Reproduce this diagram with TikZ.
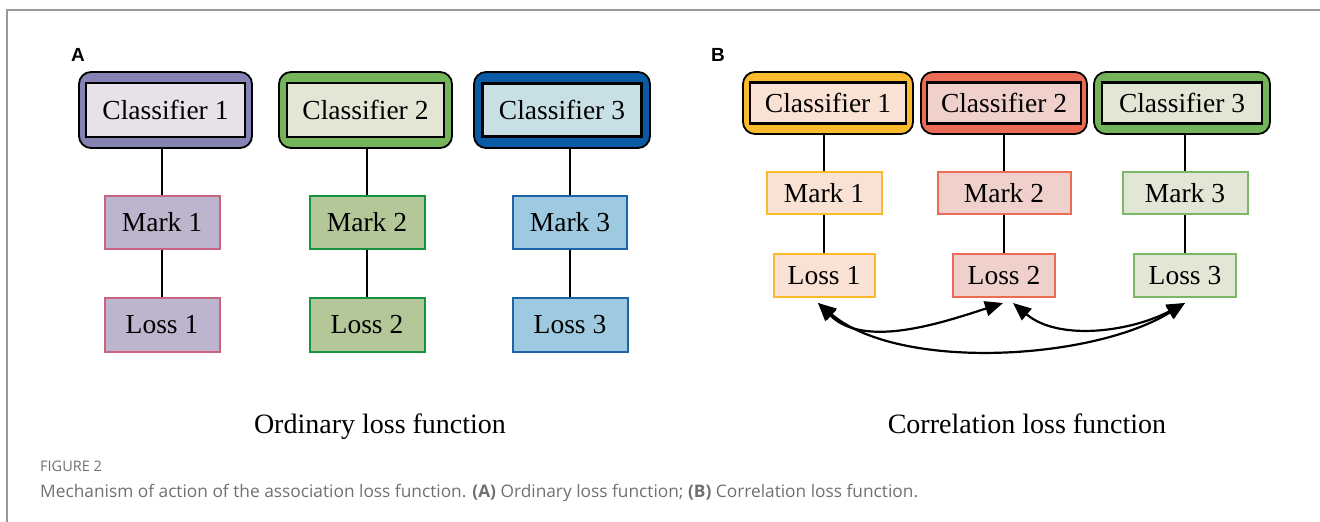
\documentclass[tikz,border=0pt]{standalone}
\usepackage{fontspec}
\setmainfont{Liberation Serif}
\newfontfamily\boxfont{Liberation Serif}
\newfontfamily\capfont{Open Sans}
\newfontfamily\lblfont{Liberation Sans}
\usetikzlibrary{arrows.meta}

% panel A palette
\definecolor{aOneOut}{HTML}{8582B4}
\definecolor{aOneIn}{HTML}{E7E1EA}
\definecolor{aOneBox}{HTML}{BDB5CD}
\definecolor{aOneLine}{HTML}{C9637F}
\definecolor{aTwoOut}{HTML}{74B55B}
\definecolor{aTwoIn}{HTML}{E3E6D4}
\definecolor{aTwoBox}{HTML}{B3C799}
\definecolor{aTwoLine}{HTML}{17923F}
\definecolor{aThrOut}{HTML}{0B5AA6}
\definecolor{aThrIn}{HTML}{C9DFE6}
\definecolor{aThrBox}{HTML}{9DCAE0}
\definecolor{aThrLine}{HTML}{1D63A8}
% panel B palette
\definecolor{bOneOut}{HTML}{FBBA2C}
\definecolor{bOneIn}{HTML}{F9E2D3}
\definecolor{bTwoOut}{HTML}{EC6B55}
\definecolor{bTwoIn}{HTML}{EFD0CA}
\definecolor{bThrOut}{HTML}{73B45B}
\definecolor{bThrIn}{HTML}{E2E6D4}
\definecolor{bThrLine}{HTML}{7BB866}
\definecolor{framegray}{HTML}{9A9A9A}
\definecolor{captiongray}{HTML}{707070}

\tikzset{
  outerbox/.style={draw=black, line width=1.8pt, rounded corners=12pt, inner sep=0pt},
  innerbox/.style={draw=black, line width=2.2pt, inner sep=0pt, font=\boxfont\fontsize{27.5}{30}\selectfont},
  stepbox/.style={line width=2pt, inner sep=0pt, font=\boxfont\fontsize{27.5}{30}\selectfont},
  link/.style={draw=black, line width=2pt},
  corr/.style={draw=black, line width=2.2pt,
    {Triangle[length=18pt,width=15pt]}-{Triangle[length=18pt,width=15pt]}},
  paneltitle/.style={anchor=base, inner sep=0pt, font=\boxfont\fontsize{28}{32}\selectfont},
  panellabel/.style={anchor=base, inner sep=0pt, font=\lblfont\bfseries\fontsize{19}{22}\selectfont},
}

\begin{document}
\begin{tikzpicture}[x=1pt, y=1pt]
\useasboundingbox (0,0) rectangle (1320,522);

% outer frame
\draw[framegray, line width=1.5pt] (7,0) -- (7,512) -- (1320,512);

% ---------------- panel A ----------------
\node[panellabel] (la) at (78,460.5) {A};

\node[outerbox, fill=aOneOut, minimum width=173pt, minimum height=76pt] (ao1) at (165.5,412) {};
\node[innerbox, fill=aOneIn, minimum width=159pt, minimum height=54pt] (ac1) at (ao1.center) {Classifier 1};
\node[stepbox, draw=aOneLine, fill=aOneBox, minimum width=115pt, minimum height=53pt] (am1) at (162,299.5) {Mark 1};
\node[stepbox, draw=aOneLine, fill=aOneBox, minimum width=115pt, minimum height=54pt] (al1) at (162,197) {Loss 1};

\node[outerbox, fill=aTwoOut, minimum width=173pt, minimum height=76pt] (ao2) at (365.5,412) {};
\node[innerbox, fill=aTwoIn, minimum width=157pt, minimum height=54pt] (ac2) at (ao2.center) {Classifier 2};
\node[stepbox, draw=aTwoLine, fill=aTwoBox, minimum width=115pt, minimum height=53pt] (am2) at (367,299.5) {Mark 2};
\node[stepbox, draw=aTwoLine, fill=aTwoBox, minimum width=115pt, minimum height=54pt] (al2) at (367,197) {Loss 2};

\node[outerbox, fill=aThrOut, minimum width=176pt, minimum height=76pt] (ao3) at (562,412) {};
\node[innerbox, fill=aThrIn, minimum width=159pt, minimum height=53pt] (ac3) at (ao3.center) {Classifier 3};
\node[stepbox, draw=aThrLine, fill=aThrBox, minimum width=114pt, minimum height=53pt] (am3) at (570,299.5) {Mark 3};
\node[stepbox, draw=aThrLine, fill=aThrBox, minimum width=115pt, minimum height=54pt] (al3) at (570,197) {Loss 3};

\foreach \i in {1,2,3}{
  \draw[link] (am\i.north) -- (am\i.north |- ao\i.south);
  \draw[link] (am\i.south) -- (am\i.south |- al\i.north);
}

\node[paneltitle] (ta) at (380,88) {Ordinary loss function};

% ---------------- panel B ----------------
\node[panellabel] (lb) at (718,460.5) {B};

\node[outerbox, fill=bOneOut, minimum width=170pt, minimum height=62pt] (bo1) at (828,419) {};
\node[innerbox, fill=bOneIn, minimum width=156pt, minimum height=41pt] (bc1) at (bo1.center) {Classifier 1};
\node[stepbox, draw=bOneOut, fill=bOneIn, minimum width=115pt, minimum height=42pt] (bm1) at (824,329) {Mark 1};
\node[stepbox, draw=bOneOut, fill=bOneIn, minimum width=101pt, minimum height=43pt] (bl1) at (824,246.5) {Loss 1};

\node[outerbox, fill=bTwoOut, minimum width=166pt, minimum height=62pt] (bo2) at (1004,419) {};
\node[innerbox, fill=bTwoIn, minimum width=154pt, minimum height=41pt] (bc2) at (bo2.center) {Classifier 2};
\node[stepbox, draw=bTwoOut, fill=bTwoIn, minimum width=133pt, minimum height=42pt] (bm2) at (1004,329) {Mark 2};
\node[stepbox, draw=bTwoOut, fill=bTwoIn, minimum width=102pt, minimum height=43pt] (bl2) at (1004,246.5) {Loss 2};

\node[outerbox, fill=bThrOut, minimum width=176pt, minimum height=62pt] (bo3) at (1182,419) {};
\node[innerbox, fill=bThrIn, minimum width=160pt, minimum height=41pt] (bc3) at (bo3.center) {Classifier 3};
\node[stepbox, draw=bThrLine, fill=bThrIn, minimum width=125pt, minimum height=42pt] (bm3) at (1185,329) {Mark 3};
\node[stepbox, draw=bThrLine, fill=bThrIn, minimum width=102pt, minimum height=43pt] (bl3) at (1185,246.5) {Loss 3};

\foreach \i in {1,2,3}{
  \draw[link] (bm\i.north) -- (bm\i.north |- bo\i.south);
  \draw[link] (bm\i.south) -- (bm\i.south |- bl\i.north);
}

% correlation links between the losses
\coordinate (p1) at ([xshift=-6pt, yshift=-5pt]bl1.south);
\coordinate (p2) at ([xshift=-1pt, yshift=-5pt]bl2.south);
\coordinate (p2r) at ([xshift=9pt, yshift=-5pt]bl2.south);
\coordinate (p3) at ([xshift=0pt, yshift=-5pt]bl3.south);

\draw[corr] (p1) to[out=-45, in=-162, looseness=0.9] (p2);
\draw[corr] (p2r) to[out=-40, in=-152, looseness=0.9] (p3);
\draw[corr] (p1) to[out=-40, in=-148, looseness=0.75] (p3);

\node[paneltitle] (tb) at (1027,88) {Correlation loss function};

% ---------------- caption ----------------
\node[anchor=base west, inner sep=0pt, text=captiongray, font=\capfont\fontsize{14.5}{16}\selectfont] (fig) at (40,50.5) {FIGURE 2};
\node[anchor=base west, inner sep=0pt, text=captiongray, font=\capfont\fontsize{17.3}{20}\selectfont] (cap) at (40,24)
  {Mechanism of action of the association loss function. \textbf{(A)} Ordinary loss function; \textbf{(B)} Correlation loss function.};
\end{tikzpicture}
\end{document}
